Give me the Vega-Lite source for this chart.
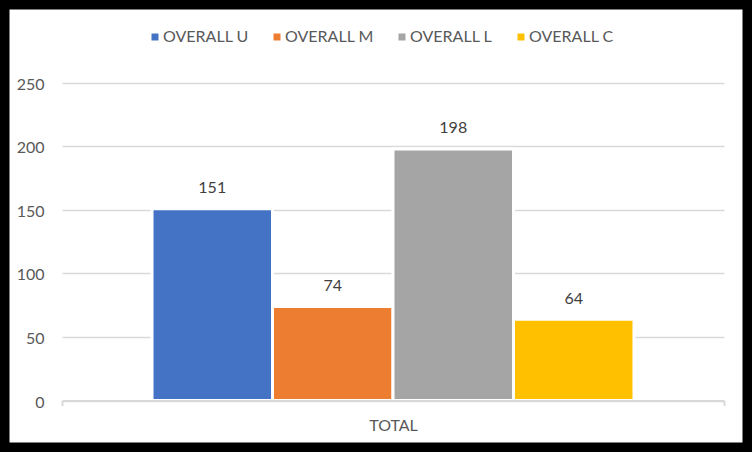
{
  "$schema": "https://vega.github.io/schema/vega-lite/v6.json",
  "width": 752,
  "height": 452,
  "padding": 0,
  "autosize": "none",
  "background": "white",
  "config": {
    "view": {"stroke": "black", "strokeWidth": 19, "fill": "white"},
    "font": "Lato",
    "axis": {"labelFont": "Lato", "labelFontSize": 16, "labelColor": "#595959"}
  },
  "data": {
    "values": [
      {"group": "TOTAL", "series": "OVERALL U", "value": 151},
      {"group": "TOTAL", "series": "OVERALL M", "value": 74},
      {"group": "TOTAL", "series": "OVERALL L", "value": 198},
      {"group": "TOTAL", "series": "OVERALL C", "value": 64}
    ]
  },
  "encoding": {
    "x": {
      "field": "group",
      "type": "nominal",
      "scale": {"range": [62, 724], "paddingInner": 0, "paddingOuter": 0},
      "axis": {
        "title": null,
        "labelAngle": 0,
        "offset": -51.5,
        "domainColor": "#d9d9d9",
        "domainWidth": 2,
        "tickColor": "#d9d9d9",
        "tickWidth": 2,
        "tickSize": 5,
        "tickBand": "extent",
        "labelBaseline": "middle",
        "labelPadding": 20,
        "grid": false,
        "zindex": 1
      }
    },
    "xOffset": {
      "field": "series",
      "type": "nominal",
      "sort": ["OVERALL U", "OVERALL M", "OVERALL L", "OVERALL C"],
      "scale": {"paddingInner": 0, "paddingOuter": 0.747}
    },
    "y": {
      "field": "value",
      "type": "quantitative",
      "scale": {"domain": [-40.55, 315.35], "nice": false, "zero": false},
      "axis": {
        "title": null,
        "values": [0, 50, 100, 150, 200, 250],
        "offset": -52,
        "domain": false,
        "ticks": false,
        "tickSize": 0,
        "labelPadding": 8,
        "labelBaseline": "middle",
        "labelOffset": 1.5,
        "gridColor": "#d9d9d9",
        "gridWidth": 1.3
      }
    }
  },
  "layer": [
    {
      "mark": {"type": "bar", "stroke": "white", "strokeWidth": 3},
      "encoding": {
        "y2": {"datum": 0},
        "color": {
          "field": "series",
          "type": "nominal",
          "scale": {
            "domain": ["OVERALL U", "OVERALL M", "OVERALL L", "OVERALL C"],
            "range": ["#4472C4", "#ED7D31", "#A5A5A5", "#FFC000"]
          },
          "legend": {
            "title": null,
            "orient": "none",
            "legendX": 147,
            "legendY": 29,
            "direction": "horizontal",
            "columns": 4,
            "padding": 0,
            "columnPadding": 20,
            "symbolType": "square",
            "symbolSize": 49,
            "symbolStrokeWidth": 0,
            "labelOffset": 0,
            "labelFont": "Lato",
            "labelFontSize": 16,
            "labelColor": "#595959"
          }
        }
      }
    },
    {
      "mark": {"type": "text", "dy": -20.7, "baseline": "middle", "fontSize": 16, "color": "#404040"},
      "encoding": {"text": {"field": "value", "type": "quantitative"}}
    }
  ]
}
